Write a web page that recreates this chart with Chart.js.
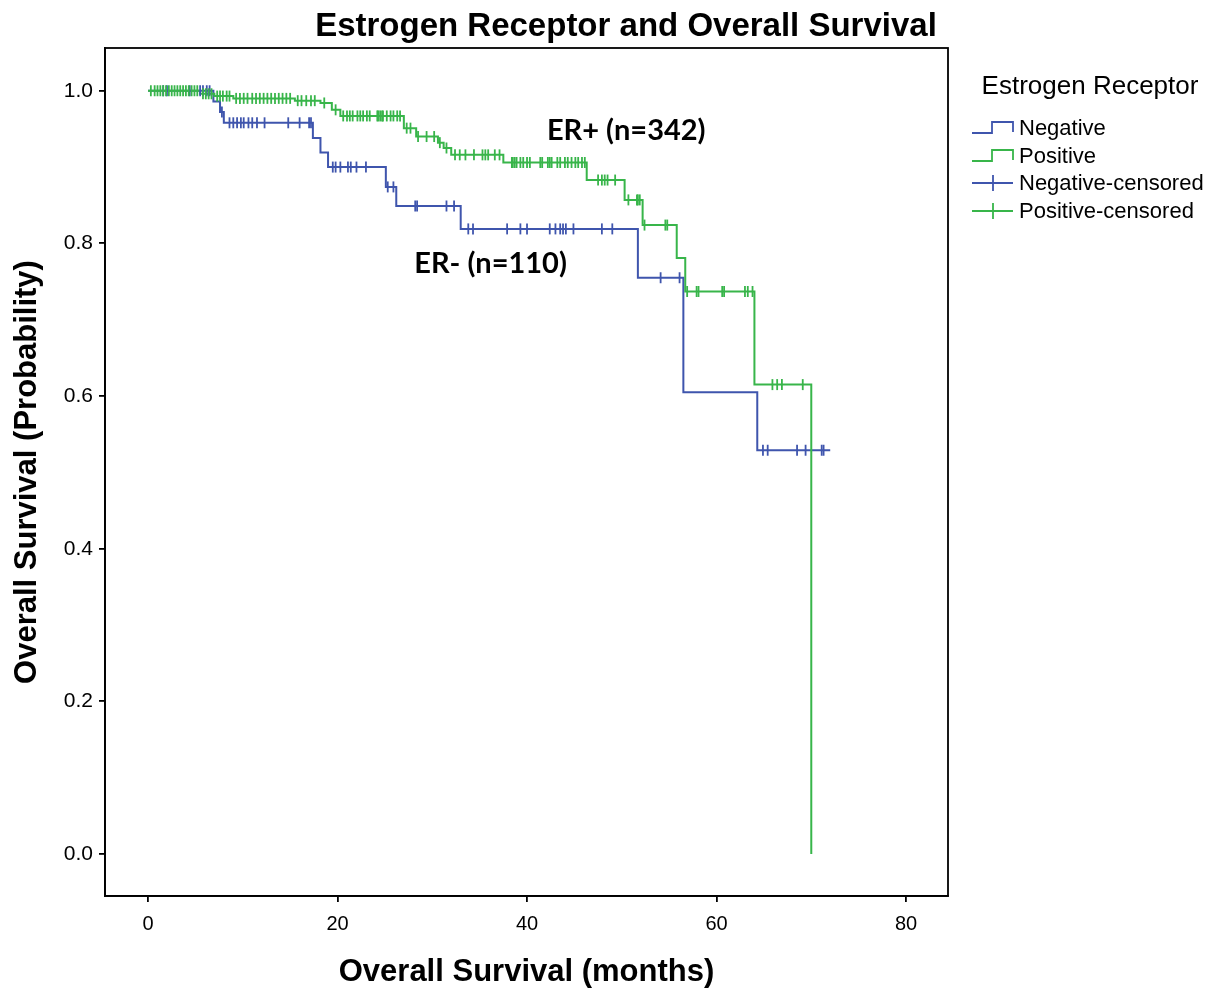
<!DOCTYPE html>
<html>
<head>
<meta charset="utf-8">
<script src="https://cdn.jsdelivr.net/npm/chart.js@4.4.1/dist/chart.umd.min.js"></script>
<style>
    html, body { margin: 0; padding: 0; background: #fff; }
    #wrap { width: 1220px; height: 994px; }
</style>
</head>
<body>
<div id="wrap"><canvas id="kmChart" width="1220" height="994"></canvas></div>
<script>
// Kaplan-Meier steps (months, survival after the step)
const negTimes = [0, 6.9, 7.6, 8.0, 17.4, 18.2, 19.0, 25.1, 26.2, 33.0, 51.7, 56.5, 64.3, 72.0];
const negSurv  = [1.0, 0.986, 0.972, 0.958, 0.938, 0.919, 0.900, 0.874, 0.849, 0.819, 0.755, 0.605, 0.529, 0.529];

const posTimes = [0, 5.5, 7.0, 9.0, 15.5, 18.2, 19.4, 20.3, 27.0, 28.3, 30.6, 31.2, 32.0, 37.5, 46.3, 50.3, 52.2, 55.8, 56.7, 64.0, 70.0];
const posSurv  = [1.0, 0.996, 0.993, 0.990, 0.987, 0.984, 0.975, 0.967, 0.951, 0.940, 0.932, 0.925, 0.916, 0.906, 0.883, 0.857, 0.824, 0.781, 0.737, 0.615, 0.0];

// censored cases (months)
const negCensored = [1.6, 2.0, 4.4, 5.5, 5.8, 6.2, 6.5, 7.8, 8.6, 9.0, 9.4, 9.8, 10.1, 10.6, 11.0, 11.5, 12.3, 14.8, 16.0, 17.0, 17.2,
    19.5, 19.8, 20.3, 21.1, 21.4, 22.0, 23.0, 25.3, 25.9, 28.2, 28.4, 31.5, 32.3, 33.8, 34.3, 37.9, 39.3, 40.0, 42.4, 43.0, 43.5,
    43.8, 44.1, 44.9, 47.9, 49.0, 54.1, 56.1, 64.9, 65.4, 68.5, 69.4, 71.1, 71.3];
const posCensored = [0.3, 0.7, 1.0, 1.3, 1.6, 1.9, 2.2, 2.5, 2.8, 3.1, 3.4, 3.7, 4.0, 4.3, 4.6, 4.9, 5.2,
    5.8, 6.1, 6.4, 6.7, 7.3, 7.6, 7.9, 8.3, 8.6,
    9.3, 9.7, 10.1, 10.5, 11.0, 11.4, 11.8, 12.2, 12.6, 13.0, 13.4, 13.8, 14.2, 14.6, 15.0,
    15.8, 16.2, 16.7, 17.2, 17.6, 18.6, 19.8,
    20.6, 21.0, 21.3, 21.6, 22.1, 22.4, 22.7, 23.1, 23.4, 24.2, 24.3, 24.5, 24.7, 24.8, 25.2, 25.6, 25.9, 26.3, 26.6,
    27.3, 27.7, 28.5, 29.4, 30.2, 30.8, 31.5,
    32.4, 32.9, 33.5, 34.4, 35.3, 35.6, 35.9, 36.6, 37.1,
    38.4, 38.5, 38.7, 38.9, 39.3, 39.6, 40.0, 40.3, 41.4, 41.6, 42.2, 42.4, 42.6, 43.2, 43.5, 44.0, 44.3, 44.7, 45.1, 45.4, 45.8, 46.1,
    47.5, 47.9, 48.2, 48.5, 49.3, 50.7, 51.6, 51.7, 51.9, 52.4, 54.6, 54.8,
    56.9, 57.9, 58.1, 60.6, 60.8, 63.0, 63.3, 63.8, 65.9, 66.4, 66.9, 69.1];

const seriesLabels = ['Negative', 'Positive', 'Negative-censored', 'Positive-censored'];
const xTicks = [0, 20, 40, 60, 80];
const yTicks = [0, 0.2, 0.4, 0.6, 0.8, 1.0];
const groupNotes = ['ER+ (n=342)', 'ER- (n=110)'];
const notePos = [[42.1, 0.948], [28.1, 0.773]];

const BLUE = '#3f55ad';
const GREEN = '#38b54a';
const FONT = "'Liberation Sans', Arial, sans-serif";

// survival level of the curve at time t (for placing censor ticks on the curve)
function survAt(times, surv, t) {
    let s = surv[0];
    for (let i = 0; i < times.length; i++) {
        if (times[i] <= t) s = surv[i];
    }
    return s;
}

function toPoints(xs, ys) {
    return xs.map((t, i) => ({ x: t, y: ys[i] }));
}

// title, box, legend and group notes
const decor = {
    id: 'decor',
    afterDraw(chart) {
        const { ctx, chartArea: a, scales } = chart;
        const ds = chart.data.datasets;
        ctx.save();

        ctx.strokeStyle = '#000';
        ctx.lineWidth = 1.8;
        ctx.strokeRect(a.left, a.top, a.right - a.left, a.bottom - a.top);

        ctx.fillStyle = '#000';
        ctx.textBaseline = 'middle';
        ctx.textAlign = 'center';
        ctx.font = 'bold 33px ' + FONT;
        ctx.fillText('Estrogen Receptor and Overall Survival', 626, 27);

        // group notes
        ctx.textAlign = 'left';
        ctx.font = "bold 29px Lato, 'Open Sans', sans-serif";
        groupNotes.forEach((txt, i) => {
            ctx.fillText(txt, scales.x.getPixelForValue(notePos[i][0]), scales.y.getPixelForValue(notePos[i][1]));
        });

        // legend
        ctx.textAlign = 'center';
        ctx.font = '26px ' + FONT;
        ctx.fillText('Estrogen Receptor', 1090, 87);
        ctx.textAlign = 'left';
        ctx.font = '22px ' + FONT;
        const lx = 972, ys = [128, 156, 183, 211];
        ds.forEach((d, i) => {
            const yy = ys[i];
            ctx.strokeStyle = d.borderColor;
            ctx.lineWidth = 1.8;
            ctx.beginPath();
            if (i < 2) {
                ctx.moveTo(lx, yy + 5);
                ctx.lineTo(lx + 20, yy + 5);
                ctx.lineTo(lx + 20, yy - 6);
                ctx.lineTo(lx + 41, yy - 6);
                ctx.lineTo(lx + 41, yy + 4);
            } else {
                ctx.moveTo(lx, yy);
                ctx.lineTo(lx + 41, yy);
                ctx.moveTo(lx + 21, yy - 8);
                ctx.lineTo(lx + 21, yy + 8);
            }
            ctx.stroke();
            ctx.fillStyle = '#000';
            ctx.fillText(d.label, lx + 47, yy + 1);
        });
        ctx.restore();
    }
};

document.addEventListener('DOMContentLoaded', function() {
    const ctx = document.getElementById('kmChart');
    new Chart(ctx, {
        type: 'scatter',
        data: {
            datasets: [{
                label: seriesLabels[0],
                data: toPoints(negTimes, negSurv),
                showLine: true,
                stepped: true,
                borderColor: BLUE,
                borderWidth: 2,
                pointRadius: 0,
                order: 3
            }, {
                label: seriesLabels[1],
                data: toPoints(posTimes, posSurv),
                showLine: true,
                stepped: true,
                borderColor: GREEN,
                borderWidth: 2,
                pointRadius: 0,
                order: 2
            }, {
                label: seriesLabels[2],
                data: negCensored.map(t => ({ x: t, y: survAt(negTimes, negSurv, t) })),
                borderColor: BLUE,
                backgroundColor: BLUE,
                pointStyle: 'line',
                rotation: 90,
                pointRadius: 5.5,
                borderWidth: 1.8,
                order: 1
            }, {
                label: seriesLabels[3],
                data: posCensored.map(t => ({ x: t, y: survAt(posTimes, posSurv, t) })),
                borderColor: GREEN,
                backgroundColor: GREEN,
                pointStyle: 'line',
                rotation: 90,
                pointRadius: 5.5,
                borderWidth: 1.8,
                order: 0
            }]
        },
        options: {
            responsive: false,
            animation: false,
            events: [],
            layout: {
                padding: { top: 48, right: 272, bottom: 0, left: 0 }
            },
            plugins: {
                legend: { display: false },
                title: { display: false },
                tooltip: { enabled: false }
            },
            scales: {
                x: {
                    type: 'linear',
                    min: -4.54,
                    max: 84.43,
                    afterBuildTicks: function(scale) {
                        scale.ticks = xTicks.map(v => ({ value: v }));
                    },
                    afterFit: function(scale) {
                        scale.height = 98;
                    },
                    ticks: {
                        padding: 10,
                        color: '#000',
                        font: { family: FONT, size: 20 },
                        callback: function(value) {
                            return String(value);
                        }
                    },
                    grid: {
                        drawOnChartArea: false,
                        drawTicks: true,
                        tickLength: 6,
                        color: '#000',
                        lineWidth: 1.8
                    },
                    border: { display: true, color: '#000', width: 1.8 },
                    title: {
                        display: true,
                        text: 'Overall Survival (months)',
                        color: '#000',
                        padding: { top: 0, bottom: 3 },
                        font: { family: FONT, size: 31, weight: 'bold' }
                    }
                },
                y: {
                    type: 'linear',
                    min: -0.055,
                    max: 1.056,
                    afterBuildTicks: function(scale) {
                        scale.ticks = yTicks.map(v => ({ value: v }));
                    },
                    afterFit: function(scale) {
                        scale.width = 105;
                    },
                    ticks: {
                        padding: 6,
                        color: '#000',
                        font: { family: FONT, size: 21 },
                        callback: function(value) {
                            return Number(value).toFixed(1);
                        }
                    },
                    grid: {
                        drawOnChartArea: false,
                        drawTicks: true,
                        tickLength: 6,
                        color: '#000',
                        lineWidth: 1.8
                    },
                    border: { display: true, color: '#000', width: 1.8 },
                    title: {
                        display: true,
                        text: 'Overall Survival (Probability)',
                        color: '#000',
                        padding: { top: 9, bottom: 0 },
                        font: { family: FONT, size: 31, weight: 'bold' }
                    }
                }
            }
        },
        plugins: [decor]
    });
});
</script>
</body>
</html>
